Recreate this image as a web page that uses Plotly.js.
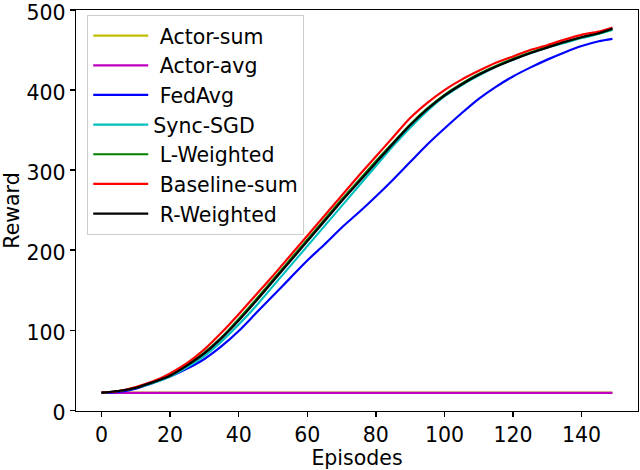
<!DOCTYPE html>
<html>
<head>
<meta charset="utf-8">
<script src="https://cdn.plot.ly/plotly-3.0.1.min.js"></script>
<style>html,body{margin:0;padding:0;background:#fff;}#chart{width:640px;height:470px;}</style>
</head>
<body>
<div id="chart"></div>
<script>
// Episodes at which values were read
const episodes = [0,5,10,15,20,25,30,35,40,45,50,55,60,65,70,75,80,85,90,95,100,105,110,115,120,125,130,135,140,145,149];
const seriesNames = [" Actor-sum", " Actor-avg", " FedAvg", "Sync-SGD", " L-Weighted", " Baseline-sum", " R-Weighted"];
const actorSum = [22,22,22,22,22,22,22,22,22,22,22,22,22,22,22,22,22,22,22,22,22,22,22,22,22,22,22,22,22,22,22];
const actorAvg = [21.6,21.6,21.6,21.6,21.6,21.6,21.6,21.6,21.6,21.6,21.6,21.6,21.6,21.6,21.6,21.6,21.6,21.6,21.6,21.6,21.6,21.6,21.6,21.6,21.6,21.6,21.6,21.6,21.6,21.6,21.6];
const fedAvg = [22,23,27,34,42,52,64,80,99,121,143,165,187,207,228,247,267,288,310,332,352,371,389,404,417,428,438,447,455,461,464];
const syncSGD = [22,24,28,34,42,54,68,86,107,130,155,180,205,230,255,280,305,330,353,374,392,406,418,429,438,446,453,459,465,470,475];
const lWeighted = [22,24,28,35,44,57,72,91,114,138,163,188,213,238,263,287,311,334,357,377,394,408,420,430,439,447,454,460,466,471,476];
const baselineSum = [22,24,29,36,46,59,76,97,120,144,168,193,218,243,268,293,317,341,365,384,400,413,424,434,442,450,456,463,469,473,478];
const rWeighted = [22,24,28,35,43,56,71,90,112,136,161,186,211,236,261,285,309,333,356,376,393,407,419,429,438,446,453,460,466,471,477];
const xTicks = [0,20,40,60,80,100,120,140];
const yTicks = [0,100,200,300,400,500];

const colors = ["#bfbf00","#bf00bf","#0000ff","#00bfbf","#008000","#ff0000","#000000"];
const allSeries = [actorSum, actorAvg, fedAvg, syncSGD, lWeighted, baselineSum, rWeighted];

const traces = allSeries.map((ys, i) => ({
  x: episodes, y: ys, type: "scatter", mode: "lines",
  name: seriesNames[i], legendgroup: "g" + i,
  line: {color: colors[i], width: 2.2, shape: "spline", smoothing: 0.8}
}));

const font = "DejaVu Sans, sans-serif";
const fs = 20.5;
const layout = {
  width: 640, height: 470,
  margin: {l: 76, r: 2, t: 10, b: 59, pad: 0},
  paper_bgcolor: "#fff", plot_bgcolor: "#fff",
  font: {family: font, size: fs, color: "#000"},
  showlegend: true,
  legend: {
    x: 0.02, y: 0.988, xanchor: "left", yanchor: "top",
    bgcolor: "rgba(255,255,255,0.8)", bordercolor: "#cccccc", borderwidth: 1,
    font: {family: font, size: fs, color: "#000"},
    tracegroupgap: 5, traceorder: "normal", itemwidth: 55
  },
  xaxis: {
    range: [-7.45, 156.45], tickvals: xTicks, ticktext: xTicks.map(String),
    showline: true, mirror: true, linecolor: "#000", linewidth: 1.3,
    ticks: "outside", ticklen: 5, tickwidth: 1.3, tickcolor: "#000",
    showgrid: false, zeroline: false, ticklabeloverflow: "allow",
    tickfont: {family: font, size: fs, color: "#000"},
    title: {text: "Episodes", font: {family: font, size: fs, color: "#000"}, standoff: 8}
  },
  yaxis: {
    range: [-1, 500], tickvals: yTicks, ticktext: yTicks.map(String),
    showline: true, mirror: true, linecolor: "#000", linewidth: 1.3,
    ticks: "outside", ticklen: 5, tickwidth: 1.3, tickcolor: "#000",
    showgrid: false, zeroline: false, ticklabeloverflow: "allow", ticklabelshift: 3,
    tickfont: {family: font, size: fs, color: "#000"},
    title: {text: "Reward", font: {family: font, size: fs, color: "#000"}, standoff: 8}
  }
};

Plotly.newPlot("chart", traces, layout, {displayModeBar: false, staticPlot: true});
</script>
</body>
</html>
